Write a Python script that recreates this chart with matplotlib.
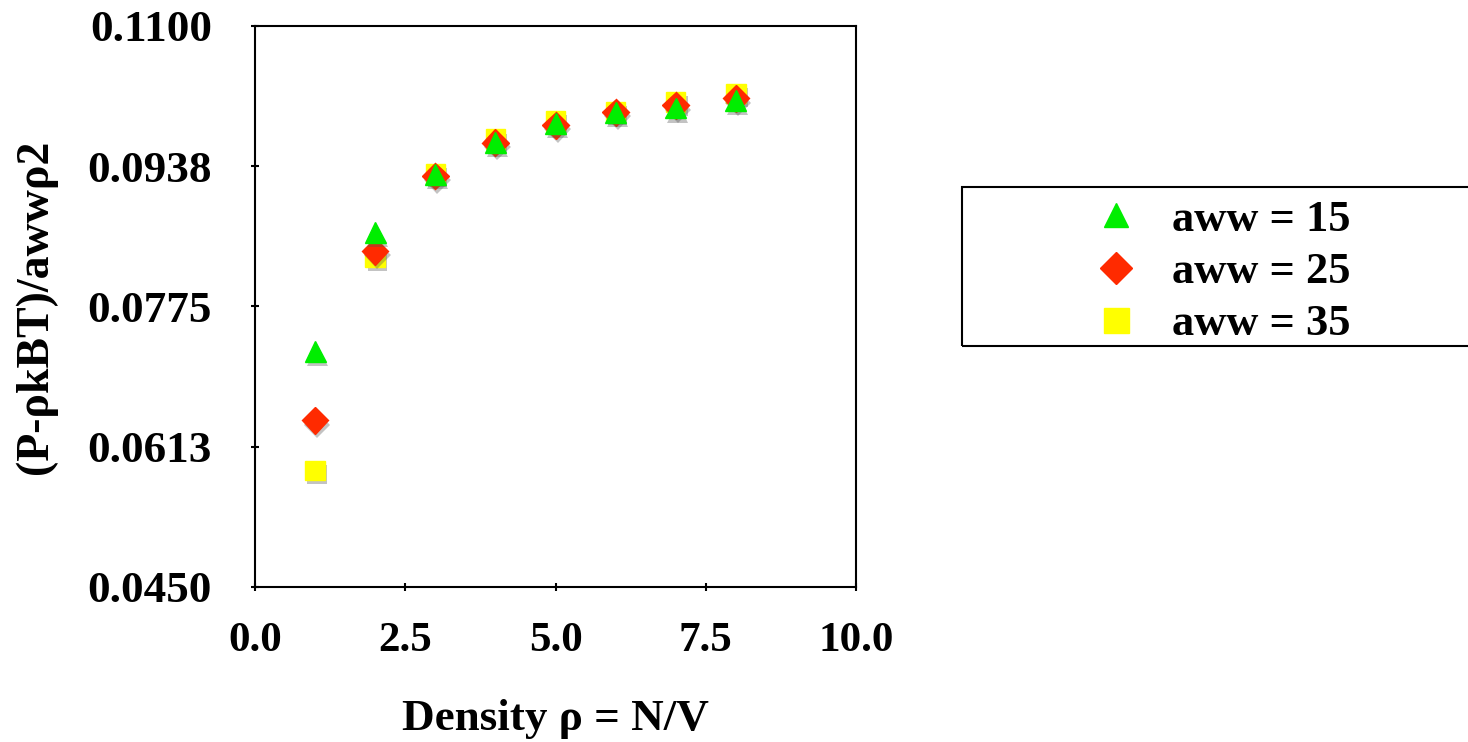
import matplotlib
matplotlib.use('Agg')
import matplotlib.pyplot as plt
import matplotlib.patheffects as pe
from matplotlib.lines import Line2D
from matplotlib.patches import Rectangle
import numpy as np

# data
density = [1, 2, 3, 4, 5, 6, 7, 8]
aww15 = [0.0723, 0.0861, 0.0928, 0.0965, 0.0987, 0.1000, 0.1005, 0.1014]
aww25 = [0.0643, 0.0839, 0.0926, 0.0965, 0.0985, 0.1000, 0.1008, 0.1016]
aww35 = [0.0585, 0.0832, 0.0929, 0.0969, 0.0990, 0.1001, 0.1012, 0.1022]

xticks = [0.0, 2.5, 5.0, 7.5, 10.0]
xtick_labels = ['0.0', '2.5', '5.0', '7.5', '10.0']
yticks = [0.045, 0.06125, 0.0775, 0.09375, 0.110]
ytick_labels = ['0.0450', '0.0613', '0.0775', '0.0938', '0.1100']
labels = ['aww = 15', 'aww = 25', 'aww = 35']

plt.rcParams['font.family'] = ['Liberation Serif', 'DejaVu Serif']
plt.rcParams['font.weight'] = 'bold'
fs = 31

W, H = 1468, 742
fig = plt.figure(figsize=(W / 100, H / 100), dpi=100)
ax = fig.add_axes([255 / W, 1 - 587 / H, (856 - 255) / W, (587 - 26) / H])

shadow = [pe.withSimplePatchShadow(offset=(1.5, -3), shadow_rgbFace='#555555', alpha=0.35)]

ax.plot(density, aww35, ls='none', marker='s', ms=14, color='#ffff00', mec='#ffff00',
        path_effects=shadow, clip_on=False)
ax.plot(density, aww25, ls='none', marker='D', ms=13.5, color='#ff2a00', mec='#ff2a00',
        path_effects=shadow, clip_on=False)
ax.plot(density, aww15, ls='none', marker='^', ms=15, color='#00ee00', mec='#00ee00',
        path_effects=shadow, clip_on=False)

ax.set_xlim(0, 10)
ax.set_ylim(0.045, 0.110)
ax.set_xticks(xticks)
ax.set_xticklabels(xtick_labels, fontsize=fs, fontweight='bold')
ax.set_yticks(yticks)
ax.set_yticklabels(ytick_labels, fontsize=32.5, fontweight='bold')
ax.tick_params(axis='both', direction='inout', length=6, width=1.5)
ax.tick_params(axis='x', pad=22)
ax.tick_params(axis='y', pad=28)
for s in ax.spines.values():
    s.set_linewidth(1.5)

ax.set_xlabel('Density ρ = N/V', fontsize=32.5, fontweight='bold', labelpad=28)
ax.set_ylabel('(P-ρkBT)/awwρ2', fontsize=33, fontweight='bold', labelpad=22)

# legend (no shadows on the handles)
handles = [
    Line2D([], [], ls='none', marker='^', ms=17, color='#00ee00'),
    Line2D([], [], ls='none', marker='D', ms=16.5, color='#ff2a00'),
    Line2D([], [], ls='none', marker='s', ms=18, color='#ffff00'),
]
lfs = 32
fs_px = lfs * 100 / 72
fig.legend(handles, labels, loc='center left', frameon=False,
           prop={'weight': 'bold', 'size': lfs},
           bbox_to_anchor=((1116 - 0.5 * fs_px) / W, 1 - 272 / H),
           borderpad=0, handlelength=1.0, handletextpad=0.75, labelspacing=0.27,
           borderaxespad=0)
fig.add_artist(Rectangle((962 / W, 1 - 346 / H), (1500 - 962) / W, (346 - 187) / H,
                         transform=fig.transFigure, fill=False, lw=1.5, ec='black',
                         clip_on=False))

fig.savefig('out.png', dpi=100)
